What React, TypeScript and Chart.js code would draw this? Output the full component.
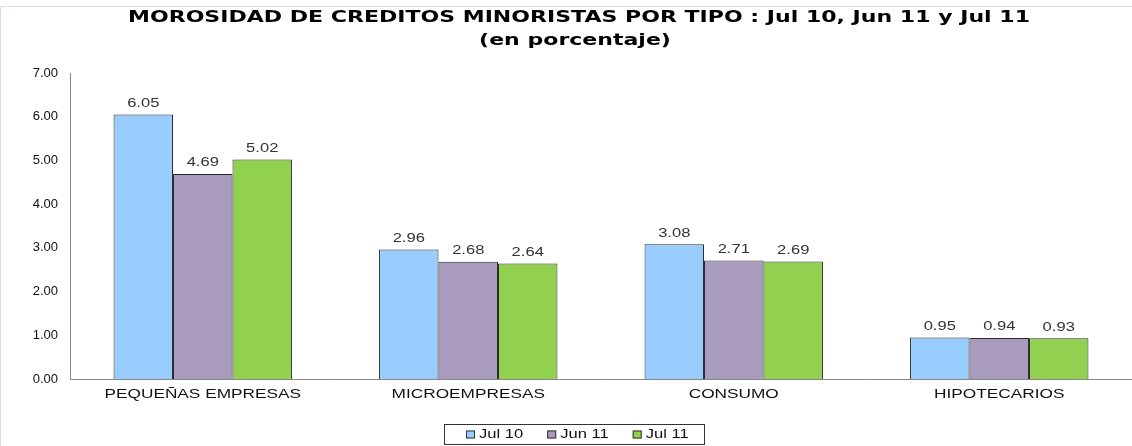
import React, { useEffect, useRef } from "react";
import { Chart, registerables } from "chart.js";

Chart.register(...registerables);

const categories = ["PEQUEÑAS EMPRESAS", "MICROEMPRESAS", "CONSUMO", "HIPOTECARIOS"];
const seriesNames = ["Jul 10", "Jun 11", "Jul 11"];
const jul10 = [6.05, 2.96, 3.08, 0.95];
const jun11 = [4.69, 2.68, 2.71, 0.94];
const jul11 = [5.02, 2.64, 2.69, 0.93];
const colors = ["#99CCFF", "#A99BBD", "#92D050"];
const titleLines = ["MOROSIDAD DE CREDITOS MINORISTAS POR TIPO : Jul 10, Jun 11 y Jul 11", "(en porcentaje)"];

const ARIAL = "'Liberation Sans', Arial, sans-serif";
const STRETCH = 1.38;

function drawStretched(ctx: any, text: string, x: number, y: number, sx: number, align: string) {
  ctx.save();
  ctx.translate(x, y);
  ctx.scale(sx, 1);
  ctx.textAlign = align;
  ctx.fillText(text, 0, 0);
  ctx.restore();
}

const valueLabels = {
  id: "valueLabels",
  afterDatasetsDraw(chart: any) {
    const ctx = chart.ctx;
    ctx.save();
    ctx.font = "12px " + ARIAL;
    ctx.fillStyle = "#333333";
    ctx.textBaseline = "bottom";
    chart.data.datasets.forEach((ds: any, i: number) => {
      const meta = chart.getDatasetMeta(i);
      meta.data.forEach((bar: any, j: number) => {
        drawStretched(ctx, Number(ds.data[j]).toFixed(2), bar.x, bar.y - 5, STRETCH, "center");
      });
    });
    ctx.restore();
  },
};

const decorPlugin = {
  id: "decor",
  afterDraw(chart: any) {
    const ctx = chart.ctx;
    ctx.save();
    // frame
    ctx.strokeStyle = "#D8DEE8";
    ctx.lineWidth = 1;
    ctx.beginPath();
    ctx.moveTo(0.5, 446);
    ctx.lineTo(0.5, 6.5);
    ctx.lineTo(1132, 6.5);
    ctx.stroke();

    // title
    ctx.fillStyle = "#000000";
    ctx.textBaseline = "middle";
    ctx.font = "bold 15px 'DejaVu Sans', Verdana, sans-serif";
    const w0 = ctx.measureText(titleLines[0]).width;
    const tsx = 902 / w0;
    drawStretched(ctx, titleLines[0], 579, 18, tsx, "center");
    drawStretched(ctx, titleLines[1], 575, 41, tsx, "center");

    // x category labels
    const xs = chart.scales.x;
    ctx.font = "12.5px " + ARIAL;
    ctx.fillStyle = "#111111";
    ctx.textBaseline = "middle";
    categories.forEach((c, i) => {
      drawStretched(ctx, c, xs.getPixelForTick(i), chart.chartArea.bottom + 16, STRETCH, "center");
    });

    // legend
    ctx.font = "12px " + ARIAL;
    const box = 9;
    const gapBoxText = 4;
    const itemGap = 24;
    const widths = seriesNames.map((n) => ctx.measureText(n).width * STRETCH);
    let total = 0;
    widths.forEach((w, i) => {
      total += box + gapBoxText + w + (i < widths.length - 1 ? itemGap : 0);
    });
    const padL = 22;
    const padR = 15;
    const frameW = total + padL + padR;
    const cx = 574;
    const frameL = Math.round(cx - frameW / 2);
    const frameT = 424;
    const frameH = 20;
    ctx.strokeStyle = "#333333";
    ctx.lineWidth = 1;
    ctx.strokeRect(frameL + 0.5, frameT + 0.5, Math.round(frameW), frameH);
    let x = frameL + padL;
    const cy = frameT + frameH / 2 + 0.5;
    seriesNames.forEach((n, i) => {
      ctx.fillStyle = colors[i];
      ctx.fillRect(x, cy - 4, box, 8);
      ctx.strokeStyle = "#333333";
      ctx.strokeRect(x + 0.5, cy - 3.5, box - 1, 7);
      ctx.fillStyle = "#111111";
      drawStretched(ctx, n, x + box + gapBoxText, cy, STRETCH, "left");
      x += box + gapBoxText + widths[i] + itemGap;
    });
    ctx.restore();
  },
};

export default function App() {
  const ref = useRef<HTMLCanvasElement>(null);
  useEffect(() => {
    if (!ref.current) return;
    const data = [jul10, jun11, jul11];
    const chart = new Chart(ref.current, {
      type: "bar",
      data: {
        labels: categories,
        datasets: seriesNames.map((name, i) => ({
          label: name,
          data: data[i],
          backgroundColor: colors[i],
          borderColor: "#2B2B2B",
          borderWidth: 1,
          borderSkipped: "bottom",
          categoryPercentage: 0.672,
          barPercentage: 1.0,
        })),
      },
      options: {
        animation: false,
        responsive: false,
        maintainAspectRatio: false,
        layout: { padding: { top: 73, right: -9, left: 0, bottom: 37 } },
        plugins: {
          title: { display: false },
          tooltip: { enabled: false },
          legend: { display: false },
        },
        scales: {
          x: {
            afterFit: (s: any) => { s.height = 30; },
            grid: { display: false, drawTicks: false },
            border: { display: true, color: "#888888" },
            ticks: { display: false },
          },
          y: {
            min: 0,
            max: 7,
            afterFit: (s: any) => { s.width = 70; },
            grid: { display: false, drawTicks: true, tickLength: 5, tickColor: "#888888" },
            border: { display: true, color: "#888888" },
            ticks: {
              stepSize: 1,
              color: "#111111",
              padding: 7,
              font: { size: 13, family: ARIAL },
              callback: (v: any) => Number(v).toFixed(2),
            },
          },
        },
      },
      plugins: [valueLabels, decorPlugin],
    });
    return () => chart.destroy();
  }, []);
  return (
    <div style={{ position: "fixed", left: 0, top: 0, width: 1132, height: 446, background: "#fff" }}>
      <canvas ref={ref} width={1132} height={446} style={{ display: "block" }} />
    </div>
  );
}
